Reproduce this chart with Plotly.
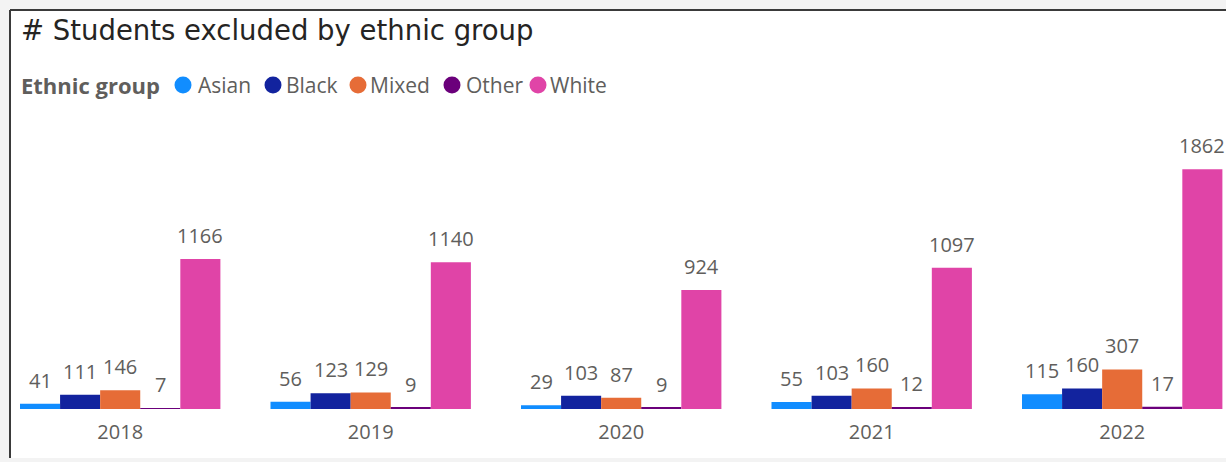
import plotly.graph_objects as go

# Exclusions per year, split by ethnic group
years = ["2018", "2019", "2020", "2021", "2022"]
groups = ["Asian", "Black", "Mixed", "Other", "White"]
asian = [41, 56, 29, 55, 115]
black = [111, 123, 103, 103, 160]
mixed = [146, 129, 87, 160, 307]
other = [7, 9, 9, 12, 17]
white = [1166, 1140, 924, 1097, 1862]
series = [asian, black, mixed, other, white]
colors = ["#118DFF", "#12239E", "#E66C37", "#6B007B", "#E044A7"]

W, H = 1226, 462
ML, MR, MT, MB = 20, 0, 120, 53
PW, PH = W - ML - MR, H - MT - MB
BARGAP = 0.2

def px(x):
    return (x - ML) / PW

def py(y):
    return (H - MB - y) / PH

label_font = "Open Sans, sans-serif"
grey = "#605E5C"

fig = go.Figure()
for name, vals, col in zip(groups, series, colors):
    fig.add_trace(go.Bar(
        x=years, y=vals, name=name, marker_color=col, marker_line_width=0,
        showlegend=False,
    ))

shapes = [
    # card background and frame
    dict(type="rect", xref="paper", yref="paper", x0=px(10), x1=px(1240), y0=py(10), y1=py(458),
         fillcolor="white", line_width=0, layer="below"),
    dict(type="line", xref="paper", yref="paper", x0=px(10), x1=px(1240), y0=py(10), y1=py(10),
         line=dict(color="#3a3a3a", width=2), layer="below"),
    dict(type="line", xref="paper", yref="paper", x0=px(10), x1=px(10), y0=py(10), y1=py(458),
         line=dict(color="#3a3a3a", width=2), layer="below"),
]

annotations = [
    dict(text="# Students excluded by ethnic group", xref="paper", yref="paper",
         x=px(19), y=py(30), xanchor="left", yanchor="middle", showarrow=False,
         font=dict(family="DejaVu Sans, sans-serif", size=27.5, color="#252423")),
    dict(text="<b>Ethnic group</b>", xref="paper", yref="paper",
         x=px(19), y=py(85), xanchor="left", yanchor="middle", showarrow=False,
         font=dict(family=label_font, size=22, color=grey)),
]

# value labels above each bar, centred on the bar's slot within its group
n = len(groups)
slot = (1 - BARGAP) / n
for k, vals in enumerate(series):
    offset = -(1 - BARGAP) / 2 + slot * (k + 0.5)
    for i, v in enumerate(vals):
        annotations.append(dict(
            text=str(v), x=i + offset, y=v, xref="x", yref="y",
            xanchor="center", yanchor="bottom", yshift=8, showarrow=False,
            font=dict(family=label_font, size=20, color=grey),
        ))

# legend entries: circle centre and text start
legend_cx = [183, 273, 358, 452, 538]
legend_tx = [196, 284, 368, 464, 548]
for name, col, cx, tx in zip(groups, colors, legend_cx, legend_tx):
    r = 8.5
    shapes.append(dict(type="circle", xref="paper", yref="paper",
                       x0=px(cx - r), x1=px(cx + r), y0=py(85 + r), y1=py(85 - r),
                       fillcolor=col, line_width=0))
    annotations.append(dict(text=name, xref="paper", yref="paper",
                            x=px(tx), y=py(85), xanchor="left", yanchor="middle",
                            showarrow=False,
                            font=dict(family=label_font, size=21, color=grey)))

fig.update_layout(
    width=W, height=H,
    margin=dict(l=ML, r=MR, t=MT, b=MB, pad=0),
    paper_bgcolor="#f3f3f3", plot_bgcolor="rgba(0,0,0,0)",
    barmode="group", bargap=BARGAP, bargroupgap=0,
    shapes=shapes, annotations=annotations,
    xaxis=dict(type="category", range=[-0.4, -0.4 + PW / 250.5], showgrid=False,
               zeroline=False, showline=False, ticks="",
               tickfont=dict(family=label_font, size=20, color=grey),
               ticklabelstandoff=9),
    yaxis=dict(range=[0, PH / 0.1287], visible=False, showgrid=False, zeroline=False),
)

fig.write_html("out.html")
